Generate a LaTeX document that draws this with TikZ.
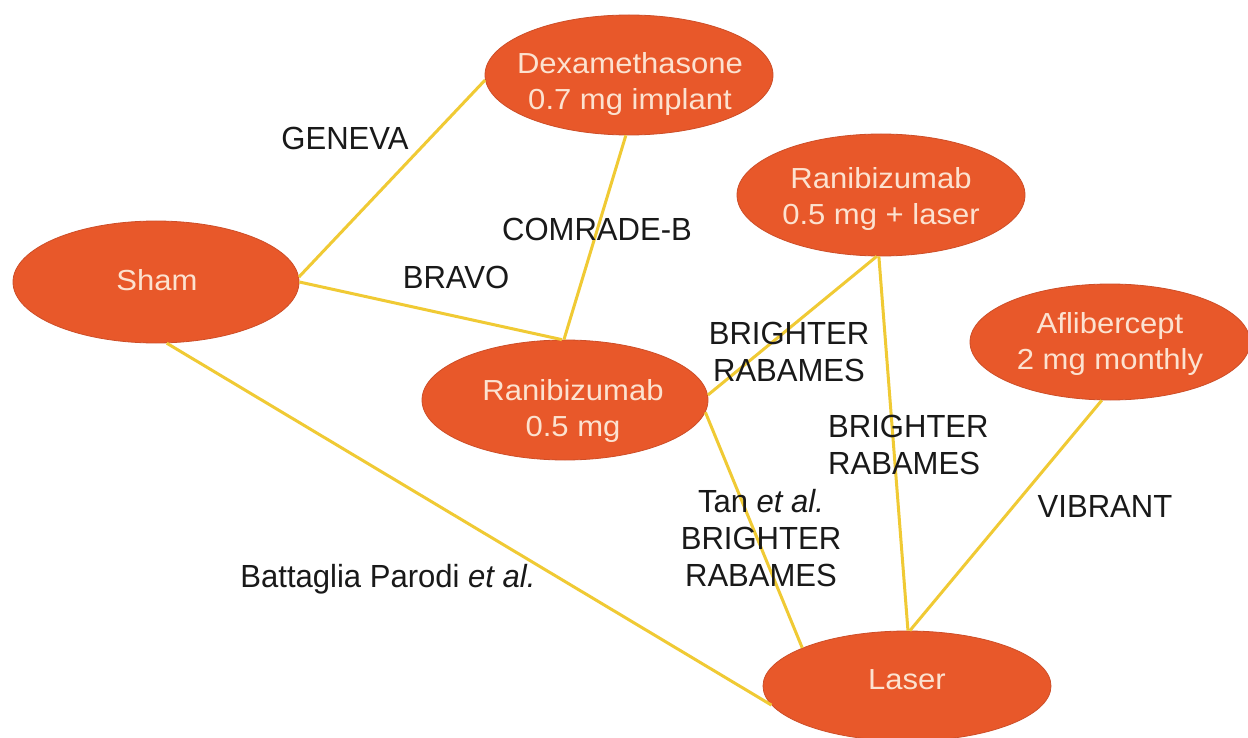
\documentclass[tikz,border=0pt]{standalone}
\usepackage{fontspec}
\setmainfont{Liberation Sans}[FakeStretch=1.07]
\newfontfamily\labfont{Liberation Sans}[FakeStretch=0.97]
\usetikzlibrary{shapes.geometric}
\definecolor{bubfill}{RGB}{232,88,42}
\definecolor{bubedge}{RGB}{205,78,40}
\definecolor{bubtxt}{RGB}{252,226,208}
\definecolor{linkcol}{RGB}{240,202,52}
\definecolor{labcol}{RGB}{25,25,25}
\tikzset{
  bub/.style={ellipse, fill=bubfill, draw=bubedge, line width=0.8pt, inner sep=0pt},
  bubtext/.style={text=bubtxt, align=center, inner sep=0pt, anchor=north,
    font=\fontsize{29}{36}\selectfont},
  link/.style={draw=linkcol, line width=3pt},
  lab/.style={text=labcol, inner sep=0pt, font=\labfont\fontsize{32}{37}\selectfont},
}
\begin{document}
\begin{tikzpicture}[x=1pt,y=-1pt]
\path[use as bounding box, fill=white] (0,0) rectangle (1248,738);
% ellipses
\node[bub, minimum width=288pt, minimum height=120pt] (dexa) at (629,75) {};
\node[bub, minimum width=286pt, minimum height=122pt] (sham) at (156,282) {};
\node[bub, minimum width=288pt, minimum height=122pt] (rl) at (881,195) {};
\node[bub, minimum width=286pt, minimum height=120pt] (rani) at (565,400) {};
\node[bub, minimum width=280pt, minimum height=116pt] (afl) at (1110,342) {};
\node[bub, minimum width=288pt, minimum height=110pt] (laser) at (907,686) {};
% ellipse texts
\node[bubtext] (dexa-t) at (630,52) {Dexamethasone\\0.7 mg implant};
\node[bubtext] (sham-t) at (157,269) {Sham};
\node[bubtext] (rl-t) at (881,167) {Ranibizumab\\0.5 mg + laser};
\node[bubtext] (rani-t) at (573,379) {Ranibizumab\\0.5 mg};
\node[bubtext] (afl-t) at (1110,312) {Aflibercept\\2 mg monthly};
\node[bubtext] (laser-t) at (907,669) {Laser};
% links
\draw[link] (sham.2) -- (dexa.182);
\draw[link] (sham.0) -- (rani.93);
\draw[link] (dexa.-93) -- (rani.91);
\draw[link] (sham.-80) -- (laser.188);
\draw[link] (rani.2) -- (rl.-94);
\draw[link] (rani.-5) -- (laser.160);
\draw[link] (rl.-92) -- (laser.89);
\draw[link] (afl.-98) -- (laser.87);
% labels
\node[lab, anchor=base] (geneva) at (345,150) {GENEVA};
\node[lab, anchor=base] (comrade) at (597,241) {COMRADE-B};
\node[lab, anchor=base] (bravo) at (456,288) {BRAVO};
\node[lab, anchor=north, align=center] (br1) at (789,322) {BRIGHTER\\RABAMES};
\node[lab, anchor=north west, align=left] (br2) at (828,415) {BRIGHTER\\RABAMES};
\node[lab, anchor=north, align=center] (tan) at (761,489) {Tan \textit{et al.}\\BRIGHTER\\RABAMES};
\node[lab, anchor=base] (vibrant) at (1105,517) {VIBRANT};
\node[lab, anchor=base] (battaglia) at (388,587) {Battaglia Parodi \textit{et al.}};
\end{tikzpicture}
\end{document}
